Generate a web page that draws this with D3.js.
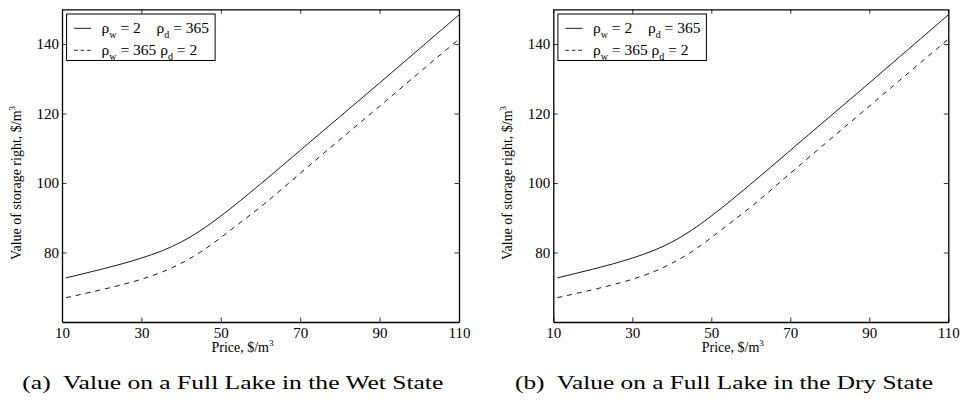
<!DOCTYPE html>
<html>
<head>
<meta charset="utf-8">
<script src="https://cdn.jsdelivr.net/npm/d3@7"></script>
<style>
  body { margin: 0; background: #fff; }
  svg text { font-family: "Liberation Serif", serif; }
</style>
</head>
<body>
<svg id="chart" width="960" height="400"></svg>
<script>
// values (both panels show the same curves)
const price = [11, 15, 20, 25, 30, 35, 40, 45, 50, 55, 60, 70, 80, 90, 100, 110];
const valueSolid = [72.7, 73.8, 75.2, 76.7, 78.4, 80.4, 83.0, 86.4, 90.5, 95.0, 99.7, 109.4, 119.1, 128.8, 138.6, 148.4];
const valueDashed = [67.0, 68.0, 69.3, 70.7, 72.3, 74.3, 76.9, 80.2, 84.3, 88.7, 93.1, 102.8, 112.5, 122.1, 131.8, 141.4];
const xTicks = [10, 30, 50, 70, 90, 110];
const yTicks = [80, 100, 120, 140];
const legendRows = [["2", "365"], ["365", "2"]];
const captions = ["(a)  Value on a Full Lake in the Wet State", "(b)  Value on a Full Lake in the Dry State"];

const svgSpace = d3.select("#chart");

const panels = [
    { left: 62, right: 459 },
    { left: 553.3, right: 948.3 }
];
const plotTop = 9.3, plotBottom = 322;

panels.forEach((p, k) => {
    const x = d3.scaleLinear().domain([10, 110]).range([p.left, p.right]);
    const y = d3.scaleLinear().domain([60, 150]).range([plotBottom, plotTop]);
    const g = svgSpace.append("g");

    // ticks on all four sides, pointing inwards
    g.append("g").attr("transform", "translate(0," + plotBottom + ")")
        .call(d3.axisBottom(x).tickValues(xTicks).tickSizeInner(-4.5).tickSizeOuter(0).tickPadding(5));
    g.append("g").attr("transform", "translate(" + p.left + ",0)")
        .call(d3.axisLeft(y).tickValues(yTicks).tickSizeInner(-4.5).tickSizeOuter(0).tickPadding(3));
    g.append("g").attr("transform", "translate(0," + plotTop + ")")
        .call(d3.axisTop(x).tickValues(xTicks).tickSizeInner(-4.5).tickSizeOuter(0).tickFormat(""));
    g.append("g").attr("transform", "translate(" + p.right + ",0)")
        .call(d3.axisRight(y).tickValues(yTicks).tickSizeInner(-4.5).tickSizeOuter(0).tickFormat(""));

    g.selectAll(".domain").attr("stroke-width", 1.3);
    g.selectAll(".tick line").attr("stroke-width", 0.8);
    g.selectAll(".tick text").attr("font-size", 15).attr("fill", "#000");

    const line = d3.line().x((d, i) => x(price[i])).y(d => y(d)).curve(d3.curveMonotoneX);

    g.append("path").datum(valueSolid)
        .attr("d", line).attr("fill", "none").attr("stroke", "#000").attr("stroke-width", 0.9);
    g.append("path").datum(valueDashed)
        .attr("d", line).attr("fill", "none").attr("stroke", "#000").attr("stroke-width", 0.9)
        .attr("stroke-dasharray", "5,5");

    // legend
    const lg = g.append("g").attr("transform", "translate(" + (p.left + 4.6) + ",14)");
    lg.append("rect").attr("width", 148.5).attr("height", 46.5)
        .attr("fill", "#fff").attr("stroke", "#000").attr("stroke-width", 1);
    legendRows.forEach((r, i) => {
        const ly = 14.3 + i * 22;
        lg.append("line").attr("x1", 7.5).attr("x2", 24.5).attr("y1", ly).attr("y2", ly)
            .attr("stroke", "#000").attr("stroke-width", 0.9)
            .attr("stroke-dasharray", i === 1 ? "3.5,3" : null);
        const t = lg.append("text").attr("x", 35).attr("y", ly + 4.5).attr("font-size", 15.5);
        t.append("tspan").text("ρ");
        t.append("tspan").attr("dy", 5).attr("font-size", 10).text("w");
        t.append("tspan").attr("dy", -5).text(" = " + r[0] + (i === 0 ? "" : " "));
        const pd = t.append("tspan").text("ρ");
        if (i === 0) pd.attr("x", 90);
        t.append("tspan").attr("dy", 5).attr("font-size", 10).text("d");
        t.append("tspan").attr("dy", -5).text(" = " + r[1]);
    });

    // axis labels
    const xl = g.append("text").attr("x", (p.left + p.right) / 2 - 18).attr("y", 352)
        .attr("text-anchor", "middle").attr("font-size", 14);
    xl.append("tspan").text("Price, $/m");
    xl.append("tspan").attr("dy", -6).attr("font-size", 9).text("3");

    const yl = g.append("text").attr("transform", "translate(" + (p.left - 41) + ",183) rotate(-90)")
        .attr("text-anchor", "middle").attr("font-size", 14);
    yl.append("tspan").text("Value of storage right, $/m");
    yl.append("tspan").attr("dy", -6).attr("font-size", 9).text("3");

    // caption
    svgSpace.append("text").attr("x", k === 0 ? 22.3 : 515).attr("y", 389)
        .attr("font-size", 19)
        .attr("textLength", k === 0 ? 421 : 418).attr("lengthAdjust", "spacingAndGlyphs")
        .attr("xml:space", "preserve")
        .text(captions[k]);
});
</script>
</body>
</html>
